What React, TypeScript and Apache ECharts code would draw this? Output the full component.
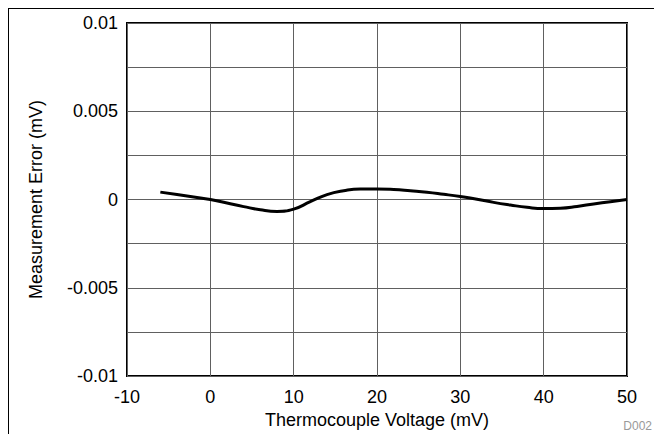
import React, { useEffect, useRef } from "react";
import * as echarts from "echarts";

const voltage = [-6, -4, -2, 0, 2, 4, 6, 8, 10, 12, 14, 16, 18, 20, 22, 24, 26, 28, 30, 32, 34, 36, 38, 40, 42, 44, 46, 48, 50];
const error = [
  0.00042, 0.00028, 0.00014, 0.0, -0.0002, -0.0004, -0.00058, -0.00067, -0.00054, -0.00012, 0.00028, 0.0005,
  0.0006, 0.0006, 0.00057, 0.0005, 0.00042, 0.0003, 0.00017, 0.00002, -0.00016, -0.00031, -0.00044, -0.00051,
  -0.00049, -0.00039, -0.00025, -0.00012, 0.0,
];
const xTicks = [-10, 0, 10, 20, 30, 40, 50];
const yLabels = ["-0.01", "-0.005", "0", "0.005", "0.01"];

export default function App() {
  const ref = useRef<HTMLDivElement>(null);
  useEffect(() => {
    if (!ref.current) return;
    const chart = echarts.init(ref.current, null, { renderer: "svg" });
    const font = "'Liberation Sans', Arial, sans-serif";
    chart.setOption({
      animation: false,
      backgroundColor: "#fff",
      grid: {
        left: 127,
        top: 23,
        right: 27,
        bottom: 57,
        show: true,
        borderColor: "#000",
        borderWidth: 2,
        containLabel: false,
      },
      xAxis: {
        type: "value",
        min: xTicks[0],
        max: xTicks[xTicks.length - 1],
        interval: 10,
        name: "Thermocouple Voltage (mV)",
        nameLocation: "middle",
        nameGap: 32,
        nameTextStyle: { color: "#000", fontSize: 18, fontFamily: font },
        axisLine: { show: false },
        axisTick: { show: false },
        axisLabel: { color: "#000", fontSize: 18, fontFamily: font, margin: 12 },
        splitLine: { show: true, lineStyle: { color: "#606060", width: 1 } },
      },
      yAxis: {
        type: "value",
        min: -0.01,
        max: 0.01,
        interval: 0.0025,
        name: "Measurement Error (mV)",
        nameLocation: "middle",
        nameGap: 82,
        nameTextStyle: { color: "#000", fontSize: 18, fontFamily: font },
        axisLine: { show: false },
        axisTick: { show: false },
        axisLabel: {
          color: "#000",
          fontSize: 18,
          fontFamily: font,
          margin: 9,
          formatter: (v: number) => {
            const k = v / 0.005;
            if (Math.abs(k - Math.round(k)) > 1e-6) return "";
            const idx = Math.round(k) + 2;
            return yLabels[idx] ?? "";
          },
        },
        splitLine: { show: true, lineStyle: { color: "#606060", width: 1 } },
      },
      graphic: [
        { type: "line", shape: { x1: 8, y1: 8.5, x2: 660, y2: 8.5 }, style: { stroke: "#000", lineWidth: 1 } },
        { type: "line", shape: { x1: 8.5, y1: 8, x2: 8.5, y2: 440 }, style: { stroke: "#000", lineWidth: 1 } },
        {
          type: "text",
          right: 2,
          bottom: 2,
          style: { text: "D002", fill: "#999", fontSize: 12, fontFamily: font },
        },
      ],
      series: [
        {
          type: "line",
          data: voltage.map((v, i) => [v, error[i]]),
          smooth: 0.5,
          showSymbol: false,
          lineStyle: { color: "#000", width: 3 },
        },
      ],
    });
    return () => chart.dispose();
  }, []);
  return <div ref={ref} style={{ position: "absolute", left: 0, top: 0, width: 654, height: 434 }} />;
}
